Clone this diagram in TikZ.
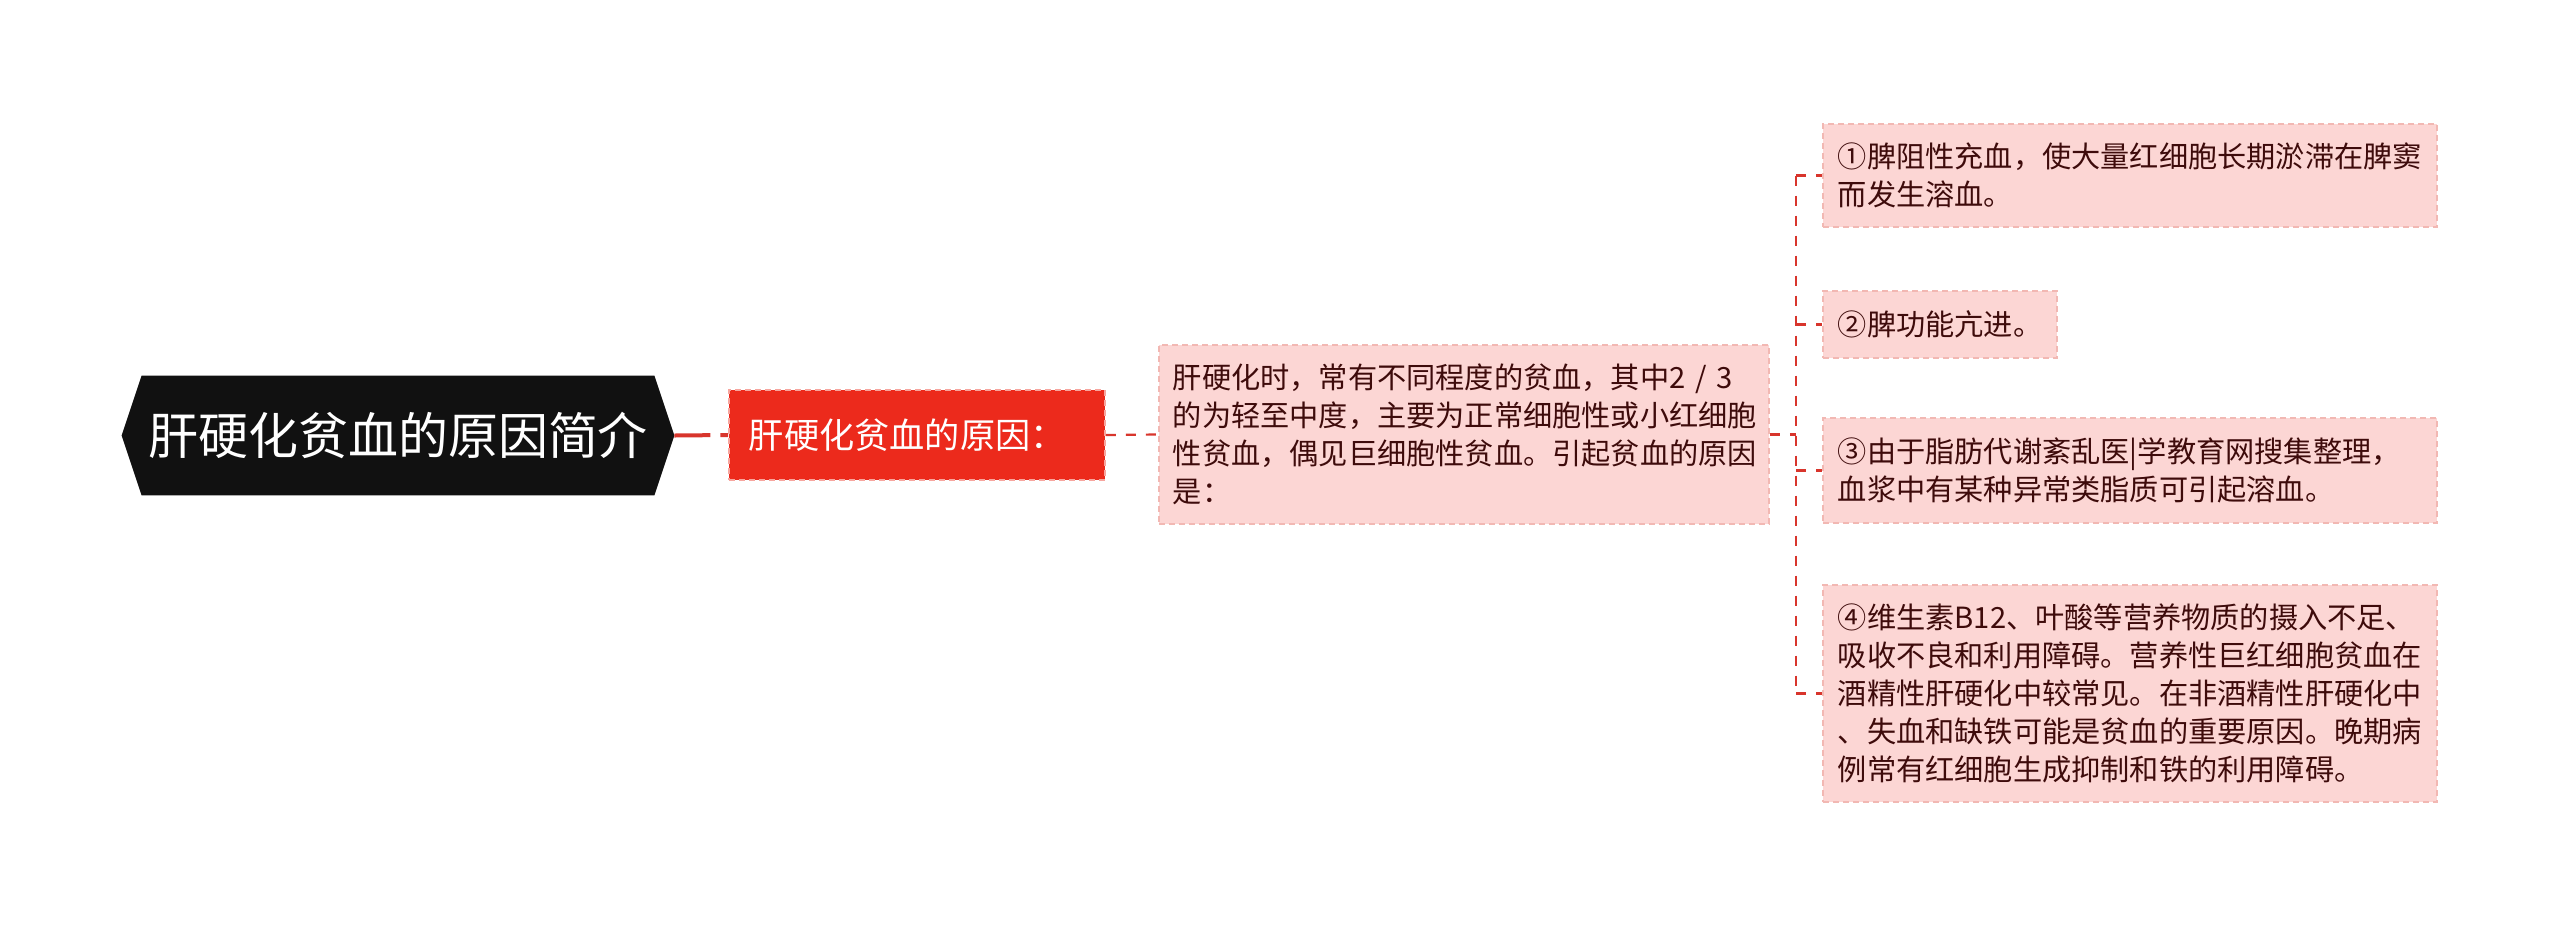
\documentclass[tikz,border=0pt]{standalone}
\usepackage{fontspec}
\setmainfont{Noto Sans CJK SC}
\usetikzlibrary{calc}
\definecolor{conn}{HTML}{D8352C}
\definecolor{rootfill}{HTML}{111111}
\definecolor{redfill}{HTML}{EC2A1C}
\definecolor{redborder}{HTML}{F7A59E}
\definecolor{pinkfill}{HTML}{FCD6D4}
\definecolor{pinkborder}{HTML}{F2B8B3}
\definecolor{pinktext}{HTML}{3E0B0B}
\tikzset{
  conline/.style={draw=conn, line width=1.1pt, dash pattern=on 5pt off 5pt},
  rootline/.style={draw=conn, line width=2pt, dash pattern=on 18pt off 5pt},
  redbox/.style={fill=redfill, draw=redborder, line width=0.9pt, dash pattern=on 3pt off 2pt,
    text=white, inner xsep=10pt, align=left, anchor=west,
    font=\fontsize{17.6pt}{22pt}\selectfont},
  pinkbox/.style={fill=pinkfill, draw=pinkborder, line width=0.9pt, dash pattern=on 3pt off 2pt,
    text=pinktext, inner xsep=7pt, align=left, anchor=west,
    font=\fontsize{14.6pt}{19pt}\selectfont},
}
\begin{document}
\begin{tikzpicture}[x=0.5pt,y=-0.5pt]
\useasboundingbox (0,0) rectangle (2560,928);
% root
\node[minimum width=276pt, minimum height=59.5pt, inner sep=0pt, text=white,
  font=\fontsize{25pt}{30pt}\selectfont] (root) at (398,435.5) {};
\fill[rootfill] ($(root.north west)+(10pt,0)$) -- ($(root.north east)-(10pt,0)$) -- (root.east)
  -- ($(root.south east)-(10pt,0)$) -- ($(root.south west)+(10pt,0)$) -- (root.west) -- cycle;
\node[text=white, font=\fontsize{25pt}{30pt}\selectfont] (roottext) at (root.center) {肝硬化贫血的原因简介};
% red box
\node[redbox, text width=168pt, minimum height=45pt] (red) at (728,435) {肝硬化贫血的原因：};
% main pink
\node[pinkbox, text width=291pt, minimum height=89.5pt] (main) at (1158,434.5)
  {肝硬化时，常有不同程度的贫血，其中2 / 3\\的为轻至中度，主要为正常细胞性或小红细胞\\性贫血，偶见巨细胞性贫血。引起贫血的原因\\是：};
% children
\node[pinkbox, text width=292pt, minimum height=51.5pt, inner xsep=7.5pt] (c1) at (1822,175.5)
  {①脾阻性充血，使大量红细胞长期淤滞在脾窦\\而发生溶血。};
\node[pinkbox, text width=102pt, minimum height=33.5pt, inner xsep=7.5pt] (c2) at (1822,324.5)
  {②脾功能亢进。};
\node[pinkbox, text width=292pt, minimum height=52.5pt, inner xsep=7.5pt] (c3) at (1822,470.5)
  {③由于脂肪代谢紊乱医|学教育网搜集整理，\\血浆中有某种异常类脂质可引起溶血。};
\node[pinkbox, text width=292pt, minimum height=108.5pt, inner xsep=7.5pt] (c4) at (1822,693.5)
  {④维生素B12、叶酸等营养物质的摄入不足、\\吸收不良和利用障碍。营养性巨红细胞贫血在\\酒精性肝硬化中较常见。在非酒精性肝硬化中\\、失血和缺铁可能是贫血的重要原因。晚期病\\例常有红细胞生成抑制和铁的利用障碍。};
% connectors
\coordinate (bus) at (1796,434.5);
\draw[rootline] (root.east) -- (red.west);
\draw[conline] (red.east) -- (main.west);
\draw[conline] (main.east) -- (bus);
\draw[conline] (c1.west -| bus) -- (c4.west -| bus);
\foreach \c in {c1,c2,c3,c4}{
  \draw[conline] (\c.west -| bus) -- (\c.west);
}
\end{tikzpicture}
\end{document}
